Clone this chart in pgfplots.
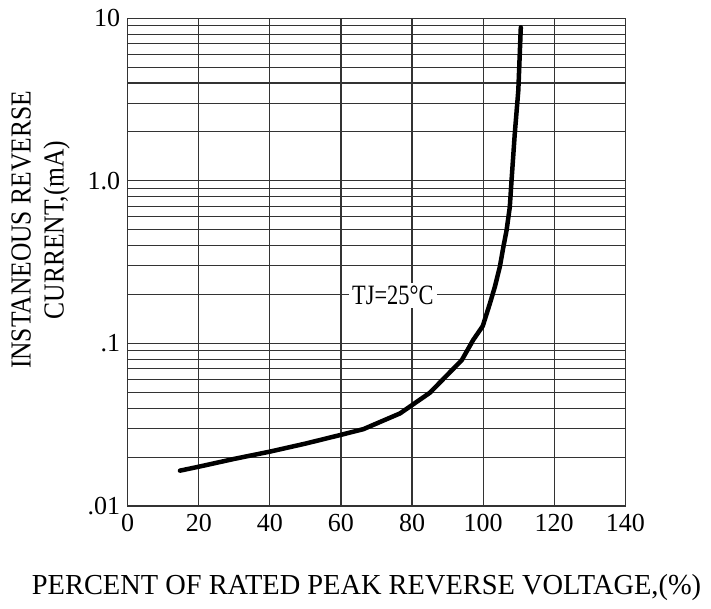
\documentclass[border=0pt]{standalone}
\usepackage{fontspec}
\setmainfont{Liberation Serif}
\newfontfamily\xlabfont[FakeStretch=0.98]{Liberation Serif}
\newfontfamily\ylabfont[FakeStretch=0.88]{Liberation Serif}
\newfontfamily\annfont[FakeStretch=0.8]{Liberation Serif}
\usepackage{pgfplots}
\pgfplotsset{compat=1.18}
\begin{document}
\begin{tikzpicture}
\begin{axis}[
  at={(0,0)}, anchor=south west,
  width=497.6pt, height=487.7pt, scale only axis,
  xmin=0, xmax=140, ymin=0.01, ymax=10, ymode=log,
  xtick={0,20,40,60,80,100,120,140},
  xticklabels={0,20,40,60,80,100,120,140},
  ytick={0.01,0.1,1,10},
  yticklabels={.01,.1,1.0,10},
  grid=both,
  major grid style={black!80, line width=1.1pt},
  minor grid style={black!80, line width=1.1pt},
  axis line style={black!80, line width=1.1pt},
  major tick length=0pt, minor tick length=0pt,
  tick label style={font=\fontsize{26}{26}\selectfont},
  xticklabel style={yshift=-5pt},
  yticklabel style={xshift=-4pt},
  xlabel={PERCENT OF RATED PEAK REVERSE VOLTAGE,(\%)},
  xlabel style={font=\xlabfont\fontsize{29}{29}\selectfont, at={(axis description cs:0.48,-0.168)}, anchor=center},
  ylabel={INSTANEOUS REVERSE\\CURRENT,(mA)},
  ylabel style={font=\ylabfont\fontsize{29}{33}\selectfont, align=center, at={(axis description cs:-0.1752,0.566)}, anchor=center},
]
\addplot[black, line width=4.5pt, line join=round, line cap=round] coordinates {
 (14.7,0.0165) (20,0.01745) (30,0.0195) (40,0.0216) (50,0.0242)
 (59.7,0.0273) (66.3,0.0297) (76.6,0.0371) (85.0,0.0497) (94.0,0.079)
 (97.2,0.105) (99.9,0.128) (101.9,0.176) (103.3,0.223) (104.7,0.296)
 (105.7,0.393) (106.6,0.497) (107.5,0.69) (108.0,1.01) (108.9,1.95)
 (109.9,3.6) (110.6,8.8)
};
\node[fill=white, inner sep=3pt, font=\annfont\fontsize{28}{28}\selectfont] at (axis cs:74.6,0.198) {TJ=25°C};
\end{axis}
\pgfresetboundingbox
\path[use as bounding box] (-127.7pt,-102pt) rectangle (583.3pt,506pt);
\end{tikzpicture}
\end{document}
